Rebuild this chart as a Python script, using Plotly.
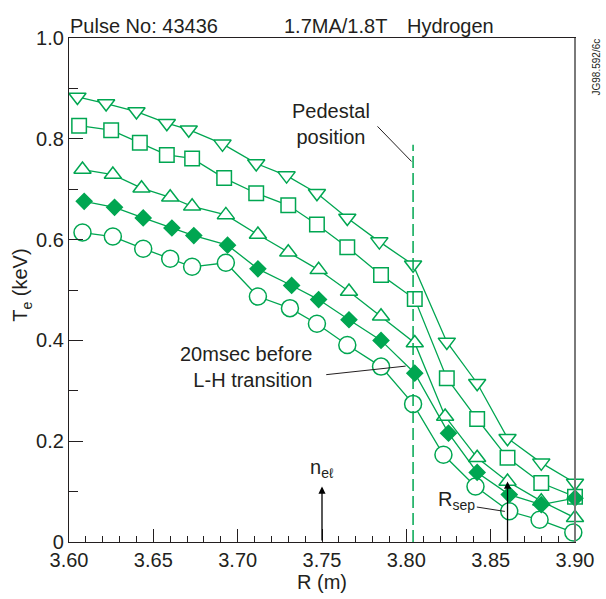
import plotly.graph_objects as go

# ---------------- data ----------------
R_circle = [3.608, 3.626, 3.644, 3.660, 3.673, 3.693, 3.712, 3.731, 3.747, 3.765,
            3.785, 3.804, 3.822, 3.841, 3.861, 3.879, 3.899]
Te_circle = [0.614, 0.606, 0.582, 0.562, 0.546, 0.554, 0.487, 0.464, 0.433, 0.391,
             0.348, 0.274, 0.173, 0.110, 0.061, 0.044, 0.019]

R_diamond = [3.609, 3.627, 3.644, 3.661, 3.674, 3.694, 3.712, 3.732, 3.748, 3.766,
             3.785, 3.805, 3.825, 3.842, 3.861, 3.880, 3.900]
Te_diamond = [0.676, 0.664, 0.643, 0.623, 0.608, 0.589, 0.542, 0.509, 0.481, 0.441,
              0.400, 0.335, 0.216, 0.138, 0.094, 0.074, 0.087]

R_tri_up = [3.608, 3.626, 3.643, 3.660, 3.673, 3.693, 3.712, 3.730, 3.748, 3.766,
            3.785, 3.805, 3.823, 3.842, 3.860, 3.880, 3.900]
Te_tri_up = [0.739, 0.729, 0.702, 0.684, 0.666, 0.649, 0.610, 0.575, 0.540, 0.497,
             0.448, 0.395, 0.249, 0.167, 0.120, 0.081, 0.048]

R_square = [3.606, 3.625, 3.642, 3.658, 3.673, 3.692, 3.711, 3.730, 3.747, 3.765,
            3.785, 3.805, 3.824, 3.842, 3.860, 3.880, 3.900]
Te_square = [0.826, 0.817, 0.792, 0.768, 0.761, 0.722, 0.692, 0.668, 0.630, 0.585,
             0.530, 0.482, 0.325, 0.244, 0.167, 0.117, 0.090]

R_tri_down = [3.605, 3.622, 3.640, 3.658, 3.671, 3.691, 3.711, 3.729, 3.747, 3.765,
              3.784, 3.804, 3.824, 3.842, 3.860, 3.880, 3.900]
Te_tri_down = [0.883, 0.870, 0.854, 0.831, 0.818, 0.790, 0.751, 0.727, 0.692, 0.643,
               0.596, 0.550, 0.397, 0.315, 0.206, 0.157, 0.117]

pedestal_R = 3.804
pedestal_top = 0.788
nel_R = 3.75
rsep_R = 3.86

x_tickvals = [3.60, 3.65, 3.70, 3.75, 3.80, 3.85, 3.90]
x_ticktext = ["3.60", "3.65", "3.70", "3.75", "3.80", "3.85", "3.90"]
y_tickvals = [0, 0.2, 0.4, 0.6, 0.8, 1.0]
y_ticktext = ["0", "0.2", "0.4", "0.6", "0.8", "1.0"]

# ---------------- styling ----------------
GREEN = "#00A651"
TXT = "#231F20"
FONT = "Liberation Sans, Arial, Helvetica, sans-serif"
FS = 20

fig = go.Figure()

series = [
    (R_circle, Te_circle, "circle", 17, "white"),
    (R_tri_up, Te_tri_up, "triangle-up", 15, "white"),
    (R_square, Te_square, "square", 14.5, "white"),
    (R_tri_down, Te_tri_down, "triangle-down", 15, "white"),
    (R_diamond, Te_diamond, "diamond", 12, GREEN),
]
for xs, ys, sym, size, fill in series:
    fig.add_trace(go.Scatter(
        x=xs, y=ys, mode="lines+markers",
        line=dict(color=GREEN, width=1.3),
        marker=dict(symbol=sym, size=size, color=fill,
                    line=dict(color=GREEN, width=1.5)),
        showlegend=False, cliponaxis=False,
    ))

# pedestal dashed line
fig.add_trace(go.Scatter(
    x=[pedestal_R, pedestal_R], y=[0, pedestal_top], mode="lines",
    line=dict(color=GREEN, width=1.5, dash="12px,5px"),
    showlegend=False,
))

shapes = [
    dict(type="line", xref="x", yref="y", x0=3.7829, y0=0.8246, x1=3.8031, y1=0.755,
         line=dict(color=TXT, width=1)),
    dict(type="line", xref="x", yref="y", x0=3.7525, y0=0.332, x1=3.7996, y1=0.349,
         line=dict(color=TXT, width=1)),
    dict(type="line", xref="x", yref="y", x0=3.8418, y0=0.0694, x1=3.8584, y1=0.0607,
         line=dict(color=TXT, width=1)),
    dict(type="line", xref="paper", yref="paper", x0=1, y0=0, x1=1, y1=1,
         line=dict(color="#7a7a7a", width=2)),
]

ann = []
def txt(x, y, s, xref="x", yref="y", xanchor="center", yanchor="middle",
        size=FS, align="center", angle=0):
    ann.append(dict(x=x, y=y, xref=xref, yref=yref, text=s, showarrow=False,
                    xanchor=xanchor, yanchor=yanchor, align=align, textangle=angle,
                    font=dict(family=FONT, size=size, color=TXT)))

txt(-0.002, 1.0244, "Pulse No: 43436", xref="paper", yref="paper", xanchor="left")
txt(0.4208, 1.0244, "1.7MA/1.8T", xref="paper", yref="paper", xanchor="left")
txt(0.6647, 1.0244, "Hydrogen", xref="paper", yref="paper", xanchor="left")
txt(1.043, 0.943, "JG98.592/6c", xref="paper", yref="paper", size=10, angle=-90)
txt(3.7556, 0.830, "Pedestal<br>position")
txt(3.7453, 0.348, "20msec before<br>L-H transition", xanchor="right", align="right")
txt(3.75, 0.145, "n<sub>eℓ</sub>")
txt(3.830, 0.082, "R<sub>sep</sub>")
txt(0.5, -0.0788, "R (m)", xref="paper", yref="paper")
txt(-0.0927, 0.5085, "T<sub>e</sub> (keV)", xref="paper", yref="paper", angle=-90)

for xr, ytop in [(nel_R, 0.11), (rsep_R, 0.12)]:
    ann.append(dict(x=xr, y=ytop, ax=xr, ay=0, xref="x", yref="y", axref="x", ayref="y",
                    text="", showarrow=True, arrowhead=2, arrowsize=1.1,
                    arrowwidth=1.3, arrowcolor="black"))

fig.update_layout(
    width=606, height=599,
    margin=dict(l=69, r=27, t=38, b=57),
    paper_bgcolor="white", plot_bgcolor="white",
    font=dict(family=FONT, size=FS, color=TXT),
    shapes=shapes, annotations=ann,
    xaxis=dict(range=[3.60, 3.90], tickvals=x_tickvals, ticktext=x_ticktext,
               ticks="inside", ticklen=13, tickwidth=1, tickcolor=TXT,
               minor=dict(dtick=0.01, tick0=3.60, ticks="inside", ticklen=6,
                          tickwidth=1, tickcolor=TXT),
               showline=True, linecolor=TXT, linewidth=1.2, mirror=True,
               showgrid=False, zeroline=False,
               tickfont=dict(family=FONT, size=FS, color=TXT)),
    yaxis=dict(range=[0, 1.0], tickvals=y_tickvals, ticktext=y_ticktext,
               ticks="inside", ticklen=14, tickwidth=1, tickcolor=TXT,
               minor=dict(dtick=0.1, tick0=0, ticks="inside", ticklen=9,
                          tickwidth=1, tickcolor=TXT),
               showline=True, linecolor=TXT, linewidth=1.2, mirror=True,
               showgrid=False, zeroline=False,
               tickfont=dict(family=FONT, size=FS, color=TXT)),
)

fig.write_html("out.html",
               config={"displayModeBar": False},
               post_script="document.body.style.margin='0';document.body.style.padding='0';")
